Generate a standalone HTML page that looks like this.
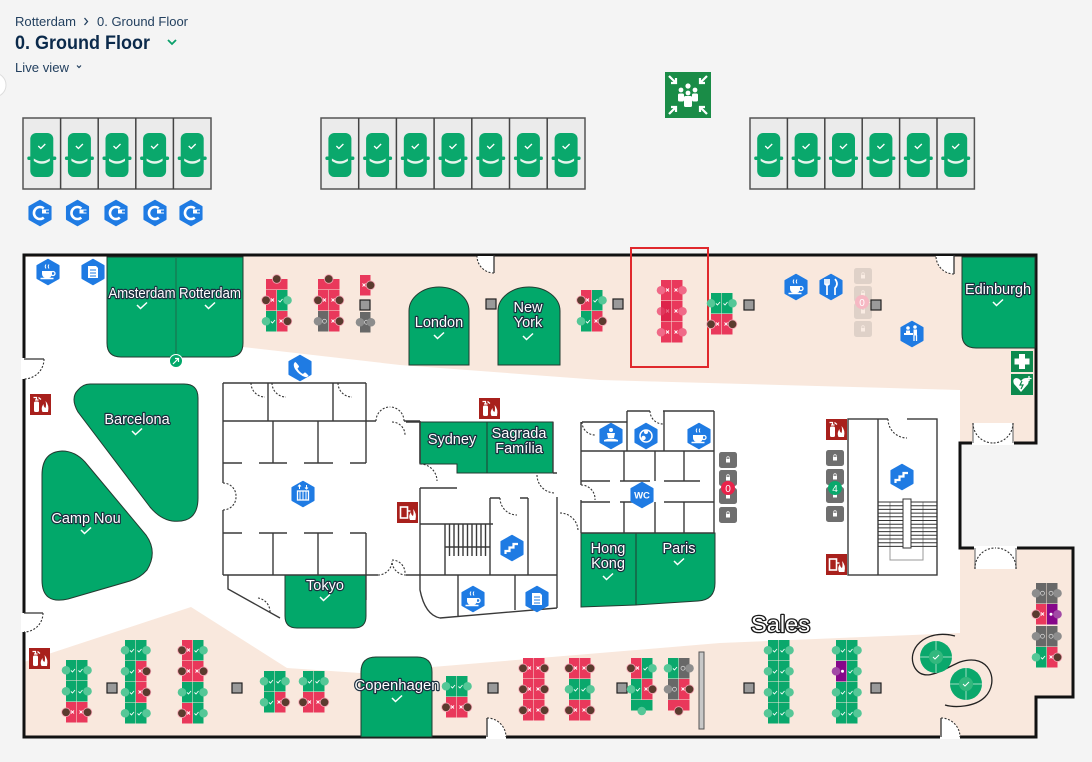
<!DOCTYPE html>
<html><head><meta charset="utf-8"><style>
html,body{margin:0;padding:0;background:#f4f4f4;width:1092px;height:762px;overflow:hidden}
svg{display:block;font-family:"Liberation Sans",sans-serif}
.lbl{font-size:14.5px;fill:#fff;stroke:#1c2f3f;stroke-width:2.4px;paint-order:stroke;stroke-linejoin:round;text-anchor:middle}
.w{fill:none;stroke:#3a3a3a;stroke-width:1.4}
.dr{fill:none;stroke:#333;stroke-width:1.1;stroke-dasharray:2 1.6}
.rm{fill:#02a86a;stroke:#233a30;stroke-width:1}
</style></head><body>
<svg width="1092" height="762" viewBox="0 0 1092 762" xmlns="http://www.w3.org/2000/svg">
<defs>
<g id="car"><rect x="-11.5" y="-22" width="23" height="44" rx="6" fill="#0aa86c"/><rect x="-14.5" y="1.5" width="29" height="3.5" rx="1.5" fill="#0aa86c"/><path d="M-8,3.5 Q0,9 8,3.5 L8,6 Q0,11.5 -8,6Z" fill="#e6f4ec"/><polyline points="-3.5,-9 -1,-6.5 3.5,-11" fill="none" stroke="#fff" stroke-width="1.3"/></g>
<polygon id="hx" points="0,-12.5 10.8,-6.3 10.8,6.3 0,12.5 -10.8,6.3 -10.8,-6.3" fill="#1f7be3" stroke="#1f7be3" stroke-width="1.5" stroke-linejoin="round"/>
<g id="ev"><use href="#hx"/><path d="M3.8,-4.6 A6,6 0 1 0 3.8,4.6" fill="none" stroke="#fff" stroke-width="2.6"/><rect x="2" y="-3.5" width="4" height="4" fill="#fff"/><path d="M6,-3 h3 M6,0 h3" stroke="#fff" stroke-width="1"/></g>
<g id="ck"><polyline points="-5,-1 -1.5,2.5 5,-3.5" fill="none" stroke="#fff" stroke-width="1.5"/></g>
<g id="lG"><rect width="10.5" height="20.5" fill="#0aa86c"/><circle cy="10.25" r="4.3" fill="#55c797"/><polyline points="5,10.5 6.5,12 9,9" fill="none" stroke="#fff" stroke-width="0.9"/></g>
<g id="rG"><rect x="11" width="10.5" height="20.5" fill="#0aa86c"/><circle cx="21.5" cy="10.25" r="4.3" fill="#55c797"/><polyline points="12.5,10.5 14,12 16.5,9" fill="none" stroke="#fff" stroke-width="0.9"/></g>
<g id="lR"><rect width="10.5" height="20.5" fill="#e9385b"/><circle cy="10.25" r="4.3" fill="#5a3b2e" stroke="#f3a3b3" stroke-width="0.8"/><path d="M5,8.5l3,3M8,8.5l-3,3" stroke="#fff" stroke-width="0.9"/></g>
<g id="rR"><rect x="11" width="10.5" height="20.5" fill="#e9385b"/><circle cx="21.5" cy="10.25" r="4.3" fill="#5a3b2e" stroke="#f3a3b3" stroke-width="0.8"/><path d="M13.5,8.5l3,3M16.5,8.5l-3,3" stroke="#fff" stroke-width="0.9"/></g>
<g id="lRp"><rect width="10.5" height="20.5" fill="#e9385b"/><circle cy="10.25" r="4.3" fill="#f06a88"/><path d="M5,8.5l3,3M8,8.5l-3,3" stroke="#fff" stroke-width="0.9"/></g>
<g id="rRp"><rect x="11" width="10.5" height="20.5" fill="#e9385b"/><circle cx="21.5" cy="10.25" r="4.3" fill="#f06a88"/><path d="M13.5,8.5l3,3M16.5,8.5l-3,3" stroke="#fff" stroke-width="0.9"/></g>
<g id="lK"><rect width="10.5" height="20.5" fill="#686868"/><circle cy="10.25" r="4.3" fill="#8d8d8d"/><circle cx="6.5" cy="10.25" r="2" fill="none" stroke="#ddd" stroke-width="0.7"/></g>
<g id="rK"><rect x="11" width="10.5" height="20.5" fill="#686868"/><circle cx="21.5" cy="10.25" r="4.3" fill="#8d8d8d"/><circle cx="15" cy="10.25" r="2" fill="none" stroke="#ddd" stroke-width="0.7"/></g>
<g id="lP"><rect width="10.5" height="20.5" fill="#86078a"/><circle cy="10.25" r="4.3" fill="#a24aa6"/><circle cx="6.5" cy="10.25" r="1.5" fill="#fff"/></g>
<g id="rP"><rect x="11" width="10.5" height="20.5" fill="#86078a"/><circle cx="21.5" cy="10.25" r="4.3" fill="#a24aa6"/><circle cx="15" cy="10.25" r="1.5" fill="#fff"/></g>
<g id="hRt"><rect width="21.5" height="10.5" fill="#e9385b"/><circle cx="10.75" cy="0" r="4.3" fill="#5a3b2e" stroke="#f3a3b3" stroke-width="0.8"/></g>
<g id="hRb"><rect width="21.5" height="10.5" fill="#e9385b"/><circle cx="10.75" cy="11" r="4.3" fill="#5a3b2e" stroke="#f3a3b3" stroke-width="0.8"/></g>
<g id="hGb"><rect width="21.5" height="10.5" fill="#0aa86c"/><circle cx="10.75" cy="11" r="4.3" fill="#55c797"/></g>
<g id="fe"><rect width="21" height="21" fill="#a8201c"/><rect x="4" y="7.5" width="5" height="10.5" rx="1.5" fill="#fff"/><path d="M5,6 h3.5 M6.5,6 v-2.5 h-3 M8.5,3.5 l2.5,2" stroke="#fff" stroke-width="1.2" fill="none"/><path d="M12.5,18 q-2,-4 1,-8 q0,3 2,4 q1,-3 0,-7 q4,4 2.5,11z" fill="#fff"/></g>
<g id="fh"><rect width="21" height="21" fill="#a8201c"/><rect x="3.5" y="5" width="7" height="11" fill="none" stroke="#fff" stroke-width="1.6"/><path d="M10.5,9 h3" stroke="#fff" stroke-width="1.4"/><path d="M13,18 q-2,-4 1,-8 q0,3 2,4 q1,-3 0,-7 q4,4 2.5,11z" fill="#fff"/></g>
<g id="cof"><path d="M-6,-2 h10 v3 a5,4.5 0 0 1 -10,0 z" fill="#fff"/><circle cx="5" cy="0.5" r="2" fill="none" stroke="#fff" stroke-width="1.3"/><path d="M-7.5,5.5 h13" stroke="#fff" stroke-width="1.5"/><path d="M-2,-4.5 q-1.5,-2 0,-4 M1,-4.5 q-1.5,-2 0,-4" stroke="#fff" stroke-width="1" fill="none"/></g>
<g id="doc"><path d="M-5,-6 h8 l2,2 v10 h-10z" fill="#fff"/><path d="M-3,-2 h6 M-3,1 h6 M-3,4 h6" stroke="#1f7be3" stroke-width="1"/></g>
<g id="str"><polyline points="-6.5,6 -6.5,3 -2.5,3 -2.5,-0.5 1.5,-0.5 1.5,-4 6,-4" fill="none" stroke="#fff" stroke-width="2.2"/></g>
<g id="lk"><rect width="18" height="16" rx="2.5" fill="#6f6f6f"/><rect x="7" y="7" width="4" height="3.5" fill="#fff"/><path d="M7.8,7 v-1.2 a1.2,1.2 0 0 1 2.4,0 V7" fill="none" stroke="#fff" stroke-width="0.8"/></g>
</defs>

<!-- header -->
<text x="15" y="26" font-size="13" fill="#23405f" textLength="61" lengthAdjust="spacingAndGlyphs">Rotterdam</text>
<polyline points="84.5,18 87.5,21.5 84.5,25" fill="none" stroke="#23405f" stroke-width="1.3"/>
<text x="97" y="26" font-size="13" fill="#23405f" textLength="91" lengthAdjust="spacingAndGlyphs">0. Ground Floor</text>
<text x="15" y="49" font-size="19.5" font-weight="bold" fill="#0b2a4b" textLength="135" lengthAdjust="spacingAndGlyphs">0. Ground Floor</text>
<polyline points="168,40 172,44 176,40" fill="none" stroke="#0aa06a" stroke-width="1.8"/>
<text x="15" y="72" font-size="13" fill="#23405f" textLength="54" lengthAdjust="spacingAndGlyphs">Live view</text>
<polyline points="77,65.5 79,67.5 81,65.5" fill="none" stroke="#23405f" stroke-width="1.2"/>
<circle cx="-6" cy="85" r="12" fill="#fff" stroke="#ddd" stroke-width="1"/>

<!-- parking -->
<g fill="#ebebeb" stroke="#555" stroke-width="1.5">
<rect x="23" y="118" width="188" height="71"/>
<rect x="321" y="118" width="264" height="71"/>
<rect x="750" y="118" width="224.4" height="71"/>
</g>
<path d="M60.6,118V189M98.2,118V189M135.8,118V189M173.4,118V189 M358.7,118V189M396.4,118V189M434.1,118V189M471.8,118V189M509.5,118V189M547.2,118V189 M787.4,118V189M824.8,118V189M862.2,118V189M899.6,118V189M937,118V189" stroke="#444" stroke-width="1.5"/>
<use href="#car" x="41.8" y="155"/><use href="#car" x="79.4" y="155"/><use href="#car" x="117" y="155"/><use href="#car" x="154.6" y="155"/><use href="#car" x="192.2" y="155"/>
<use href="#car" x="339.9" y="155"/><use href="#car" x="377.6" y="155"/><use href="#car" x="415.3" y="155"/><use href="#car" x="453" y="155"/><use href="#car" x="490.7" y="155"/><use href="#car" x="528.4" y="155"/><use href="#car" x="566.1" y="155"/>
<use href="#car" x="768.7" y="155"/><use href="#car" x="806.1" y="155"/><use href="#car" x="843.5" y="155"/><use href="#car" x="880.9" y="155"/><use href="#car" x="918.3" y="155"/><use href="#car" x="955.7" y="155"/>

<!-- EV icons -->
<use href="#ev" x="40" y="213"/><use href="#ev" x="77.5" y="213"/><use href="#ev" x="116" y="213"/><use href="#ev" x="155" y="213"/><use href="#ev" x="191" y="213"/>

<!-- assembly point -->
<rect x="665" y="72" width="46" height="46" fill="#1a8c47"/>
<g stroke="#fff" stroke-width="2.2" fill="none">
<path d="M669,76 l7,7 M676,78 v5 h-5"/><path d="M707,76 l-7,7 M700,78 v5 h5"/><path d="M669,114 l7,-7 M676,112 v-5 h-5"/><path d="M707,114 l-7,-7 M700,112 v-5 h5"/>
</g>
<g fill="#fff"><circle cx="688" cy="86" r="2.6"/><circle cx="681" cy="90" r="2.4"/><circle cx="695" cy="90" r="2.4"/><rect x="678" y="93.5" width="6" height="8" rx="1.5"/><rect x="692" y="93.5" width="6" height="8" rx="1.5"/><circle cx="688" cy="93" r="2.4"/><rect x="684" y="96" width="8" height="11" rx="1.5"/></g>

<!-- building -->
<polygon points="24,255 1036,255 1036,443 960,443 960,548 1073,548 1073,697 1036,697 1036,737 24,737" fill="#f9e8dd"/>
<polygon points="24,257 243,257 243,347 400,365 600,380 960,390 960,633 720,643 360,673 287,668 191,607 24,662" fill="#fff"/>
<polygon points="24,255 1036,255 1036,443 960,443 960,548 1073,548 1073,697 1036,697 1036,737 24,737" fill="none" stroke="#111" stroke-width="3"/>

<!-- exterior doors -->
<rect x="21" y="358" width="6" height="21" fill="#fff"/><path d="M24,359 H44" stroke="#333" stroke-width="1.3"/><path class="dr" d="M44,359 A20,20 0 0 1 24,379"/>
<rect x="21" y="613" width="6" height="19" fill="#fff"/><path d="M24,613 H43" stroke="#333" stroke-width="1.3"/><path class="dr" d="M43,613 A19,19 0 0 1 24,632"/>
<path d="M477,256 H494 V273 A17,17 0 0 1 477,256Z" fill="#fff"/><path d="M494,255 V273" stroke="#333" stroke-width="1.3"/><path class="dr" d="M494,273 A17,17 0 0 1 477,256"/>
<path d="M936,256 H954 V274 A18,18 0 0 1 936,256Z" fill="#fff"/><path d="M954,255 V274" stroke="#333" stroke-width="1.3"/><path class="dr" d="M954,274 A18,18 0 0 1 936,256"/>
<path d="M487,737 V718 A19,19 0 0 1 506,737Z" fill="#fff"/><rect x="486" y="735" width="20" height="4" fill="#fff"/><path d="M487,737 V718" stroke="#333" stroke-width="1.3"/><path class="dr" d="M487,718 A19,19 0 0 1 506,737"/>
<path d="M941,737 V718 A19,19 0 0 1 960,737Z" fill="#fff"/><rect x="940" y="735" width="20" height="4" fill="#fff"/><path d="M941,737 V718" stroke="#333" stroke-width="1.3"/><path class="dr" d="M941,718 A19,19 0 0 1 960,737"/>
<rect x="973" y="423" width="40" height="22" fill="#fff"/><rect x="972" y="441" width="42" height="4" fill="#fff"/><path d="M973,423 V443 M1013,423 V443" stroke="#777" stroke-width="1.2"/><path class="dr" d="M973,423 A20,20 0 0 0 993,443 M1013,423 A20,20 0 0 1 993,443"/>
<rect x="975" y="548" width="41" height="21" fill="#fff"/><rect x="974" y="546" width="43" height="4" fill="#fff"/><path d="M975,548 V569 M1016,548 V569" stroke="#777" stroke-width="1.2"/><path class="dr" d="M975,569 A20,20 0 0 1 995,548 M1016,569 A20,20 0 0 0 995,548"/>

<!-- green rooms -->
<path class="rm" d="M107,257 H243 V343 Q243,357 229,357 H121 Q107,357 107,343Z"/>
<path d="M176,257 V357" stroke="#1f6a4a" stroke-width="1"/>
<circle cx="176" cy="361" r="6.5" fill="#02a86a" stroke="#fff" stroke-width="1"/><path d="M173,364 l5,-5 M175,358.5 h3.5 v3.5" stroke="#fff" stroke-width="1.2" fill="none"/>
<path class="rm" d="M409,365 V311 A30,24 0 0 1 469,311 V365Z"/>
<path class="rm" d="M498,365 V311 A31,24 0 0 1 560,311 V365Z"/>
<path class="rm" d="M962,257 H1035 V348 H976 Q962,348 962,334Z"/>
<path class="rm" d="M90,384 L184,384 Q198,384 198,398 L198,498 Q198,524 172,521 Q160,519 150,507 L78,412 Q70,398 78,390 Q83,384 90,384 Z"/>
<path class="rm" d="M42,475 Q42,452 62,451 Q75,451 85,462 L146,535 Q158,552 147,570 Q140,578 130,581 L68,599 Q42,605 42,580 Z"/>
<path class="rm" d="M285,575 H366 V616 Q366,628 354,628 H297 Q285,628 285,616Z"/>
<path class="rm" d="M420,422 H487 V473 H457 V464 H420Z"/>
<path class="rm" d="M487,422 H553 V473 H487Z"/>
<path class="rm" d="M581,533 H636 V605 L581,607Z"/>
<path class="rm" d="M636,533 H715 V583 Q715,600 698,601 L636,605Z"/>
<path class="rm" d="M361,737 V672 Q361,657 376,657 H417 Q432,657 432,672 V737Z"/>

<!-- interior walls -->
<path class="w" d="M223,383 H366 M223,383 V483 M223,510 V575 M268,383 V421 M333,383 V421 M366,383 V463 M223,421 H366 M366,421 H376 M404,421 H420 M420,421 V463 M273,421 V463 M318,421 V463
M223,463 H242 M259,463 H287 M304,463 H333 M350,463 H366
M223,533 H242 M259,533 H287 M304,533 H333 M350,533 H366
M273,533 V575 M318,533 V575 M366,533 V575 M223,575 H378 M406,575 H420
M228,575 V589 L280,618 M366,575 V600"/>
<path class="dr" d="M251,383 A14,14 0 0 0 265,397 M272,383 A14,14 0 0 0 286,397 M338,383 A14,14 0 0 0 352,397 M376,421 A14,14 0 0 1 390,407 M404,421 A14,14 0 0 0 390,407 M378,575 A14,14 0 0 0 392,561 M406,575 A14,14 0 0 1 392,561 M223,483 A13,13 0 0 1 236,496 M223,510 A13,13 0 0 0 236,497 M258,598 A14,14 0 0 1 270,612"/>
<path class="w" d="M406,422 H420 M420,422 V464 M420,488 V575 M420,488 H457 M420,524 H493 M445,524 V575 M490,498 V575 M528,498 V575 M490,498 H500 M520,498 H528 M553,422 V473 M553,473 H557 M557,497 V575 M420,575 H557 M420,575 V590 Q425,615 440,618 M458,575 V617 M557,575 V608 M440,618 L557,608 M515,575 V610"/>
<path class="w" d="M449.5,524V556 M454,524V556 M458.5,524V556 M463,524V556 M467.5,524V556 M472,524V556 M476.5,524V556 M481,524V556 M485.5,524V556 M445,547 H490" stroke-width="1"/>
<path class="dr" d="M392,422 A13,13 0 0 1 405,435 M420,464 A17,17 0 0 1 437,481 M500,498 A17,17 0 0 0 517,515 M537,475 A18,18 0 0 0 555,493 M560,513 A18,18 0 0 1 578,531 M392,560 A13,13 0 0 1 405,573"/>
<path class="w" d="M582,422 H627 M627,411 H650 M663,411 H714 M627,411 V451 M664,411 V451 M714,411 V533 M581,422 V485 M581,500 V533 M581,451 H714 M581,481 H610 M620,481 H650 M664,481 H700 M581,502 H610 M620,502 H650 M664,502 H714 M624,451 V481 M655,451 V481 M684,451 V481 M624,502 V533 M655,502 V533 M684,502 V533 M581,533 H714"/>
<path class="dr" d="M650,411 A13,13 0 0 0 663,424 M581,485 A14,14 0 0 1 595,500 M582,422 A13,13 0 0 0 595,435"/>
<!-- right stairwell -->
<rect x="848" y="419" width="89" height="156" fill="#fff" stroke="#3a3a3a" stroke-width="1.4"/>
<path class="w" d="M878,419 V575"/>
<rect x="888" y="417" width="19" height="4" fill="#fff"/><path class="dr" d="M888,419 A19,19 0 0 0 907,438"/>
<rect x="890" y="502" width="33" height="58" fill="none" stroke="#999" stroke-width="1"/>
<path d="M878,502H937M878,505.7H937M878,509.4H937M878,513.1H937M878,516.8H937M878,520.5H937M878,524.2H937M878,527.9H937M878,531.6H937M878,535.3H937M878,539H937M878,542.7H937M878,546.4H937" stroke="#333" stroke-width="1"/>
<rect x="903" y="499" width="8" height="49" fill="#fff" stroke="#333" stroke-width="1"/>

<!-- fire safety -->
<use href="#fe" x="30" y="394"/><use href="#fe" x="479" y="398"/><use href="#fh" x="397" y="502"/><use href="#fe" x="826" y="419"/><use href="#fh" x="826" y="554"/><use href="#fe" x="29" y="648"/>
<rect x="1011" y="351" width="22" height="21" fill="#0d8a4e"/><rect x="1019" y="354" width="6" height="15" fill="#fff"/><rect x="1014.5" y="358.5" width="15" height="6" fill="#fff"/>
<rect x="1011" y="374" width="22" height="21" fill="#0d8a4e"/><path d="M1021,392 L1014,384 Q1012,379 1016,378 Q1019,378 1021,381 Q1023,378 1026,378 Q1030,379 1028,384Z" fill="#fff"/><path d="M1022,381 l-2,4 h3 l-2,4" stroke="#0d8a4e" stroke-width="1.2" fill="none"/><path d="M1029,376 v5 M1026.5,378.5 h5" stroke="#fff" stroke-width="1.3"/>

<!-- blue icons -->
<use href="#hx" x="48" y="272"/><use href="#cof" x="48" y="273"/>
<use href="#hx" x="93" y="272"/><use href="#doc" x="93" y="272"/>
<use href="#hx" x="300" y="368"/><path d="M295,362 q-2.5,2.5 0,7 q4,6 10,8 q2.5,0.5 3.5,-1.5 l-2.5,-2.5 q-1,-1 -2,0 l-1,1 q-4,-2 -5.5,-5.5 l1,-1 q1,-1 0,-2 l-2,-2.5 q-1,-1 -1.5,-1z" fill="#fff"/>
<use href="#hx" x="303" y="494"/><rect x="297.5" y="491" width="11" height="9" fill="none" stroke="#fff" stroke-width="1.3"/><path d="M300,491V500M303,491V500M306,491V500M299.5,489 v-4 M298,486.5 l1.5,-1.5 l1.5,1.5 M306.5,485 v4 M305,487.5 l1.5,1.5 l1.5,-1.5" stroke="#fff" stroke-width="1"/>
<use href="#hx" x="796" y="287"/><use href="#cof" x="796" y="288"/>
<use href="#hx" x="831" y="287"/><path d="M827,279 v16 M825,279 v5 q2,2 4,0 v-5 M835,279 q4,5 0,9 v7" stroke="#fff" stroke-width="1.7" fill="none"/>
<use href="#hx" x="912" y="334"/><g fill="#fff"><circle cx="908" cy="328" r="1.8"/><circle cx="915" cy="327" r="1.8"/><rect x="904" y="333" width="9" height="2"/><rect x="906" y="330.5" width="4" height="3"/><rect x="913.5" y="329.5" width="3.5" height="6"/><path d="M914,335 v6 M916.5,335 v6" stroke="#fff" stroke-width="1.3"/></g>
<use href="#hx" x="611" y="436"/><g fill="#fff"><circle cx="611" cy="430" r="2"/><path d="M607,433 h8 l-1,5 h-6z"/><path d="M604,440 q7,-3 14,0 v1.5 h-14z"/></g>
<use href="#hx" x="646" y="436"/><circle cx="646" cy="436" r="6" fill="none" stroke="#fff" stroke-width="1.5"/><circle cx="646" cy="432" r="2" fill="#fff"/><circle cx="643.5" cy="438" r="2.2" fill="#fff"/>
<use href="#hx" x="699" y="436"/><use href="#cof" x="699" y="437"/>
<use href="#hx" x="642" y="495"/><text x="642" y="498.5" font-size="9.5" font-weight="bold" fill="#fff" text-anchor="middle">WC</text>
<use href="#hx" x="512" y="548"/><use href="#str" x="512" y="548"/>
<use href="#hx" x="473" y="599"/><use href="#cof" x="473" y="600"/>
<use href="#hx" x="537" y="599"/><use href="#doc" x="537" y="599"/>
<use href="#hx" x="902" y="477"/><use href="#str" x="902" y="477"/>

<!-- lockers -->
<use href="#lk" x="719" y="452"/><use href="#lk" x="719" y="470"/><use href="#lk" x="719" y="488"/><use href="#lk" x="719" y="507"/>
<circle cx="728" cy="488" r="7" fill="#e8234a"/><text x="728" y="492" font-size="10" fill="#fff" text-anchor="middle">0</text>
<use href="#lk" x="826" y="450"/><use href="#lk" x="826" y="469"/><use href="#lk" x="826" y="487"/><use href="#lk" x="826" y="506"/>
<circle cx="835" cy="488" r="7" fill="#0aa86c"/><text x="835" y="492" font-size="10" fill="#fff" text-anchor="middle">4</text>
<g opacity="0.18"><use href="#lk" x="854" y="268"/><use href="#lk" x="854" y="286"/><use href="#lk" x="854" y="303"/><use href="#lk" x="854" y="321"/></g>
<circle cx="862" cy="302" r="7" fill="#f6b8c3"/><text x="862" y="306" font-size="10" fill="#fff" text-anchor="middle">0</text>

<!-- squares -->
<g fill="#9a9a9a" stroke="#222" stroke-width="1.2">
<rect x="486" y="299" width="10" height="10"/><rect x="613" y="299" width="10" height="10"/><rect x="744" y="300" width="10" height="10"/><rect x="871" y="300" width="10" height="10"/><rect x="360" y="300" width="10" height="10"/>
<rect x="107" y="683" width="10" height="10"/><rect x="232" y="683" width="10" height="10"/><rect x="488" y="683" width="10" height="10"/><rect x="617" y="683" width="10" height="10"/><rect x="744" y="683" width="10" height="10"/><rect x="871" y="683" width="10" height="10"/>
</g>
<rect x="699" y="652" width="5" height="77" fill="#c8c8c8" stroke="#555" stroke-width="1"/>

<!-- highlight box -->
<rect x="631" y="248" width="77" height="119" fill="none" stroke="#e0282c" stroke-width="2"/>

<!-- desks top -->
<use href="#hRt" x="266" y="279"/><use href="#lR" x="266" y="290"/><use href="#rG" x="266" y="290"/><use href="#lG" x="266" y="311"/><use href="#rR" x="266" y="311"/>
<use href="#hRt" x="318" y="279"/><use href="#lR" x="318" y="290"/><use href="#rR" x="318" y="290"/><use href="#lK" x="318" y="311"/><use href="#rR" x="318" y="311"/>
<use href="#rR" x="349" y="275"/><use href="#lK" x="360" y="312"/><circle cx="371" cy="322.25" r="4.3" fill="#8d8d8d"/>
<use href="#lR" x="581" y="290"/><use href="#rG" x="581" y="290"/><use href="#lG" x="581" y="311"/><use href="#rR" x="581" y="311"/>
<use href="#lRp" x="661" y="280"/><use href="#rRp" x="661" y="280"/><use href="#lRp" x="661" y="301"/><use href="#rRp" x="661" y="301"/><use href="#lRp" x="661" y="322"/><use href="#rRp" x="661" y="322"/>
<rect x="661" y="301" width="10.5" height="20.5" fill="#d5173f" opacity="0.6"/>
<use href="#lG" x="711" y="293"/><use href="#rG" x="711" y="293"/><use href="#lR" x="711" y="314"/><use href="#rR" x="711" y="314"/>

<!-- desks bottom -->
<use href="#lG" x="66" y="660"/><use href="#rG" x="66" y="660"/><use href="#lG" x="66" y="681"/><use href="#rG" x="66" y="681"/><use href="#lR" x="66" y="702"/><use href="#rR" x="66" y="702"/>
<use href="#lG" x="125" y="640"/><use href="#rG" x="125" y="640"/><use href="#lG" x="125" y="661"/><use href="#rR" x="125" y="661"/><use href="#lG" x="125" y="682"/><use href="#rR" x="125" y="682"/><use href="#lG" x="125" y="703"/><use href="#rG" x="125" y="703"/>
<use href="#lR" x="182" y="640"/><use href="#rG" x="182" y="640"/><use href="#lR" x="182" y="661"/><use href="#rR" x="182" y="661"/><use href="#lG" x="182" y="682"/><use href="#rG" x="182" y="682"/><use href="#lR" x="182" y="703"/><use href="#rG" x="182" y="703"/>
<use href="#lG" x="264" y="671"/><use href="#rG" x="264" y="671"/><use href="#lG" x="264" y="692"/><use href="#rR" x="264" y="692"/>
<use href="#lG" x="303" y="671"/><use href="#rG" x="303" y="671"/><use href="#lR" x="303" y="692"/><use href="#rR" x="303" y="692"/>
<use href="#lG" x="446" y="676"/><use href="#rG" x="446" y="676"/><use href="#lR" x="446" y="697"/><use href="#rR" x="446" y="697"/>
<use href="#lR" x="523" y="658"/><use href="#rR" x="523" y="658"/><use href="#lR" x="523" y="679"/><use href="#rR" x="523" y="679"/><use href="#lR" x="523" y="700"/><use href="#rR" x="523" y="700"/>
<use href="#lR" x="569" y="658"/><use href="#rR" x="569" y="658"/><use href="#lG" x="569" y="679"/><use href="#rG" x="569" y="679"/><use href="#lR" x="569" y="700"/><use href="#rR" x="569" y="700"/>
<use href="#lR" x="631" y="658"/><use href="#rG" x="631" y="658"/><use href="#lG" x="631" y="679"/><use href="#rR" x="631" y="679"/><use href="#hGb" x="631" y="700"/>
<use href="#lG" x="668" y="658"/><use href="#rK" x="668" y="658"/><use href="#lK" x="668" y="679"/><use href="#rR" x="668" y="679"/><use href="#hRb" x="668" y="700"/>
<use href="#lG" x="768" y="640"/><use href="#rG" x="768" y="640"/><use href="#lG" x="768" y="661"/><use href="#rG" x="768" y="661"/><use href="#lG" x="768" y="682"/><use href="#rG" x="768" y="682"/><use href="#lG" x="768" y="703"/><use href="#rG" x="768" y="703"/>
<use href="#lG" x="836" y="640"/><use href="#rG" x="836" y="640"/><use href="#lP" x="836" y="661"/><use href="#rG" x="836" y="661"/><use href="#lG" x="836" y="682"/><use href="#rG" x="836" y="682"/><use href="#lG" x="836" y="703"/><use href="#rG" x="836" y="703"/>
<use href="#lK" x="1036" y="583"/><use href="#rK" x="1036" y="583"/><use href="#lR" x="1036" y="604"/><use href="#rP" x="1036" y="604"/><use href="#lK" x="1036" y="626"/><use href="#rK" x="1036" y="626"/><use href="#lG" x="1036" y="647"/><use href="#rR" x="1036" y="647"/>

<!-- round tables -->
<path d="M955,636 C925,628 905,650 915,668 C925,684 945,668 960,662 C990,652 1000,682 985,697 C975,707 955,708 945,705" fill="none" stroke="#222" stroke-width="1.3"/>
<g><circle cx="936" cy="657" r="16" fill="#0aa86c"/><circle cx="936" cy="657" r="7" fill="#33b87e"/><path d="M936,641V650M936,664V673M920,657H929M943,657H952" stroke="#9fdcbf" stroke-width="1"/><polyline points="933,657 935,659 939,655" fill="none" stroke="#fff" stroke-width="1"/></g>
<g><circle cx="966" cy="684" r="16" fill="#0aa86c"/><circle cx="966" cy="684" r="7" fill="#33b87e"/><path d="M966,668V677M966,691V700M950,684H959M973,684H982" stroke="#9fdcbf" stroke-width="1"/><polyline points="963,684 965,686 969,682" fill="none" stroke="#fff" stroke-width="1"/></g>

<!-- labels -->
<text class="lbl" x="142" y="298" textLength="67" lengthAdjust="spacingAndGlyphs">Amsterdam</text><use href="#ck" x="142" y="306"/>
<text class="lbl" x="210" y="298" textLength="62" lengthAdjust="spacingAndGlyphs">Rotterdam</text><use href="#ck" x="210" y="306"/>
<text class="lbl" x="439" y="327">London</text><use href="#ck" x="439" y="336"/>
<text class="lbl" x="528" y="312">New</text><text class="lbl" x="528" y="327">York</text><use href="#ck" x="528" y="337"/>
<text class="lbl" x="998" y="294">Edinburgh</text><use href="#ck" x="998" y="303"/>
<text class="lbl" x="137" y="424">Barcelona</text><use href="#ck" x="137" y="432"/>
<text class="lbl" x="86" y="523">Camp Nou</text><use href="#ck" x="86" y="531"/>
<text class="lbl" x="325" y="590">Tokyo</text><use href="#ck" x="325" y="598"/>
<text class="lbl" x="452" y="444">Sydney</text>
<text class="lbl" x="519" y="438">Sagrada</text><text class="lbl" x="519" y="453">Família</text>
<text class="lbl" x="608" y="553">Hong</text><text class="lbl" x="608" y="568">Kong</text><use href="#ck" x="608" y="577"/>
<text class="lbl" x="679" y="553">Paris</text><use href="#ck" x="679" y="562"/>
<text class="lbl" x="397" y="690" textLength="85" lengthAdjust="spacingAndGlyphs">Copenhagen</text><use href="#ck" x="397" y="699"/>
<text x="751" y="632" font-size="23" fill="#fff" stroke="#1a1a1a" stroke-width="2.6" paint-order="stroke" stroke-linejoin="round" textLength="59" lengthAdjust="spacingAndGlyphs">Sales</text>
</svg>
</body></html>
